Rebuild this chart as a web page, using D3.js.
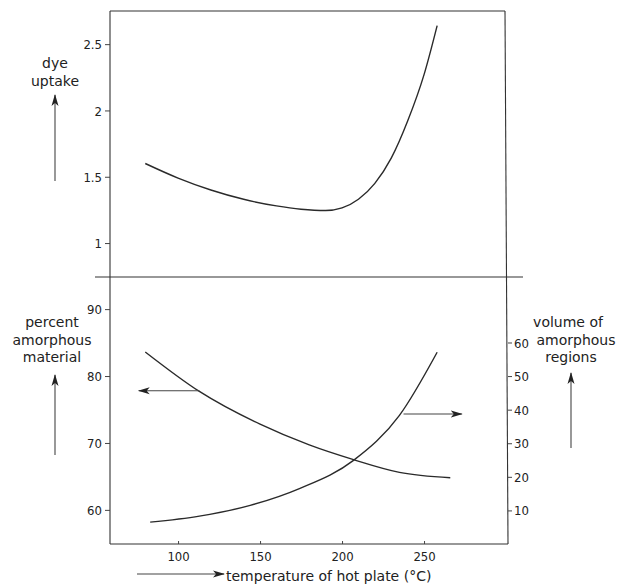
<!DOCTYPE html>
<html>
<head>
<meta charset="utf-8">
<script src="https://cdn.jsdelivr.net/npm/d3@7"></script>
<style>
body{margin:0;background:#fff;}
svg{display:block;}
.lab{font-family:"DejaVu Sans",sans-serif;font-size:14px;fill:#222;}
.tick text{font-family:"DejaVu Sans Condensed","DejaVu Sans",sans-serif;font-size:13px;fill:#222;}
.tick line{stroke:#444;}
.domain{stroke:none;}
</style>
</head>
<body>
<div id="chart"></div>
<script>
//values
var tempDye=[80,100,120,140,160,175,190,200,210,220,230,240,250,258];
var dye=[1.60,1.49,1.40,1.33,1.28,1.255,1.245,1.265,1.33,1.45,1.64,1.92,2.27,2.64];

var tempPct=[80,113,150,180,207,235,266];
var pct=[83.6,77.7,72.8,69.7,67.5,65.6,64.8];

var tempVol=[83,113,144,174,207,235,258];
var vol=[6.5,8.3,11.5,16.5,24.9,38.3,57.1];

var xTicks=[100,150,200,250];
var dyeTicks=[1,1.5,2,2.5];
var pctTicks=[60,70,80,90];
var volTicks=[10,20,30,40,50,60];

//size
var svgWidth=618, svgHeight=584;
var plotLeft=110, plotTop=11, plotMid=277, plotBottom=544;

var svg=d3.select("#chart").append("svg")
    .attr("width",svgWidth)
    .attr("height",svgHeight);

var defs=svg.append("defs");
defs.append("marker")
    .attr("id","head")
    .attr("viewBox","0 -5 12 10")
    .attr("refX",11).attr("refY",0)
    .attr("markerWidth",12).attr("markerHeight",10)
    .attr("markerUnits","userSpaceOnUse")
    .attr("orient","auto")
  .append("path")
    .attr("d","M0,-3.5L12,0L0,3.5L3,0Z")
    .attr("fill","#222");

//scales
var x=d3.scaleLinear().domain([58.5,301.2]).range([plotLeft,508]);
var yDye=d3.scaleLinear().domain([0.744,2.75]).range([plotMid,plotTop]);
var yPct=d3.scaleLinear().domain([54.9,94.8]).range([plotBottom,plotMid]);
var yVol=d3.scaleLinear().domain([0,79.5]).range([plotBottom,plotMid]);

//frame
var frame=svg.append("g").attr("stroke","#333").attr("stroke-width",1.1).attr("fill","none");
frame.append("line").attr("x1",plotLeft).attr("x2",plotLeft).attr("y1",plotTop).attr("y2",plotBottom);
frame.append("line").attr("x1",plotLeft).attr("x2",505).attr("y1",plotTop).attr("y2",plotTop);
frame.append("line").attr("x1",505).attr("x2",508).attr("y1",plotTop).attr("y2",plotBottom);
frame.append("line").attr("x1",95).attr("x2",523).attr("y1",plotMid).attr("y2",plotMid);
frame.append("line").attr("x1",plotLeft).attr("x2",508).attr("y1",plotBottom).attr("y2",plotBottom);

//axes
svg.append("g")
    .attr("transform",`translate(${plotLeft},0)`)
    .call(d3.axisLeft(yDye).tickValues(dyeTicks).tickSize(5).tickPadding(3).tickFormat(d3.format("")));
svg.append("g")
    .attr("transform",`translate(${plotLeft},0)`)
    .call(d3.axisLeft(yPct).tickValues(pctTicks).tickSize(5).tickPadding(3));
svg.append("g")
    .attr("transform",`translate(508,0)`)
    .call(d3.axisRight(yVol).tickValues(volTicks).tickSize(4).tickPadding(2));
var xAxis=svg.append("g")
    .attr("transform",`translate(0,${plotBottom})`)
    .call(d3.axisBottom(x).tickValues(xTicks).tickSize(0).tickPadding(8));
xAxis.selectAll(".tick line").attr("y2",-3);
svg.selectAll(".tick text").attr("dy","0.35em");
xAxis.selectAll(".tick text").attr("dy","0.71em");

//curves
var line=d3.line().curve(d3.curveMonotoneX);
function draw(xs,ys,sy){
    svg.append("path")
        .attr("d",line(xs.map((t,i)=>[x(t),sy(ys[i])])))
        .attr("fill","none")
        .attr("stroke","#2a2a2a")
        .attr("stroke-width",1.4);
}
draw(tempDye,dye,yDye);
draw(tempPct,pct,yPct);
draw(tempVol,vol,yVol);

//arrows pointing to the axis each curve uses
function arrow(x1,y1,x2,y2){
    svg.append("line")
        .attr("x1",x1).attr("y1",y1).attr("x2",x2).attr("y2",y2)
        .attr("stroke","#444").attr("stroke-width",1.1)
        .attr("marker-end","url(#head)");
}
arrow(x(113),yPct(77.8),x(76),yPct(77.8));
arrow(x(237.5),yVol(38.7),x(273),yVol(38.7));

//axis titles
function label(lines,cx,y0){
    lines.forEach(function(s,i){
        svg.append("text").attr("class","lab")
            .attr("x",cx).attr("y",y0+i*17.5)
            .attr("text-anchor","middle")
            .text(s);
    });
}
label(["dye","uptake"],55,68);
arrow(55,181,55,95);
label(["percent","amorphous","material"],52,327);
arrow(55,455,55,375);
svg.append("text").attr("class","lab").attr("x",568).attr("y",327).attr("text-anchor","middle").text("volume of");
svg.append("text").attr("class","lab").attr("x",576).attr("y",345).attr("text-anchor","middle").text("amorphous");
svg.append("text").attr("class","lab").attr("x",571).attr("y",362).attr("text-anchor","middle").text("regions");
arrow(571,448,571,373);

arrow(137,574,224,574);
svg.append("text").attr("class","lab")
    .attr("x",226).attr("y",581)
    .text("temperature of hot plate (°C)");
</script>
</body>
</html>
